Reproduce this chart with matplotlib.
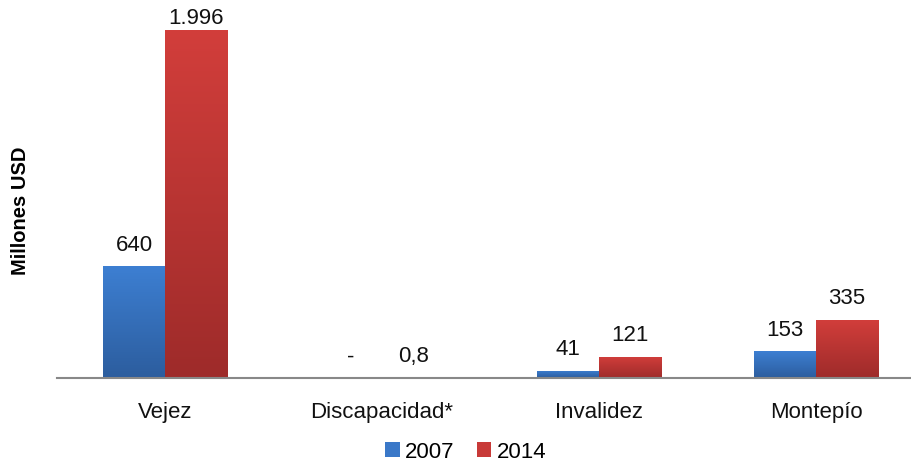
import matplotlib
matplotlib.use("Agg")
import matplotlib.pyplot as plt
import numpy as np
from matplotlib.colors import LinearSegmentedColormap

categories = ["Vejez", "Discapacidad*", "Invalidez", "Montepío"]
years = ["2007", "2014"]
values_2007 = [640, 0, 41, 153]
values_2014 = [1996, 0.8, 121, 335]
labels_2007 = ["640", "-", "41", "153"]
labels_2014 = ["1.996", "0,8", "121", "335"]

plt.rcParams["font.family"] = ["Liberation Sans", "DejaVu Sans"]

fig = plt.figure(figsize=(9.12, 4.66), dpi=100)
ax = fig.add_axes([56.6 / 912, 1 - 378 / 466, 868 / 912, 366 / 466])

x = np.arange(len(categories))
w = 0.286
b1 = ax.bar(x - w / 2, values_2007, w, color="#3a78c8", label=years[0], zorder=2)
b2 = ax.bar(x + w / 2, values_2014, w, color="#c83a38", label=years[1], zorder=2)

# vertical gradient fill on each bar
grad = np.linspace(0, 1, 256).reshape(-1, 1)
cm_blue = LinearSegmentedColormap.from_list("b", ["#2c5d9e", "#3d7fd2"])
cm_red = LinearSegmentedColormap.from_list("r", ["#9e2b2a", "#d23e3b"])
for bars, cm in ((b1, cm_blue), (b2, cm_red)):
    for p in bars:
        h = p.get_height()
        if h <= 0:
            continue
        x0 = p.get_x()
        im = ax.imshow(grad, cmap=cm, aspect="auto", origin="lower",
                       extent=[x0, x0 + p.get_width(), 0, h], zorder=3)
        im.set_clip_path(p)

for i in range(len(categories)):
    ax.text(x[i] - w / 2, values_2007[i] + 60, labels_2007[i], ha="center",
            va="bottom", fontsize=16, color="#111111")
    ax.text(x[i] + w / 2, values_2014[i] + (5 if values_2014[i] > 1500 else 60),
            labels_2014[i], ha="center", va="bottom", fontsize=16, color="#111111",
            zorder=5)

ax.set_xlim(-0.5, len(categories) - 0.5)
ax.set_ylim(0, 2100)
ax.set_xticks(x)
ax.set_xticklabels(categories, fontsize=16, color="#111111")
ax.tick_params(axis="x", length=0, pad=17)
ax.set_yticks([])
for s in ["top", "right", "left"]:
    ax.spines[s].set_visible(False)
ax.spines["bottom"].set_color("#888888")
ax.spines["bottom"].set_linewidth(1.5)
ax.spines["bottom"].set_zorder(4)

ax.set_ylabel("Millones USD", fontsize=14.5, fontweight="bold")
ax.yaxis.set_label_coords(-27 / 868, (378 - 211) / 366)

fig.legend(handles=[b1, b2], labels=years, loc="center",
           bbox_to_anchor=(466 / 912, 1 - 452 / 466), ncol=2, frameon=False,
           fontsize=16, handlelength=0.65, handleheight=0.65,
           handletextpad=0.25, columnspacing=1.0)

fig.savefig("out.png", dpi=100)
